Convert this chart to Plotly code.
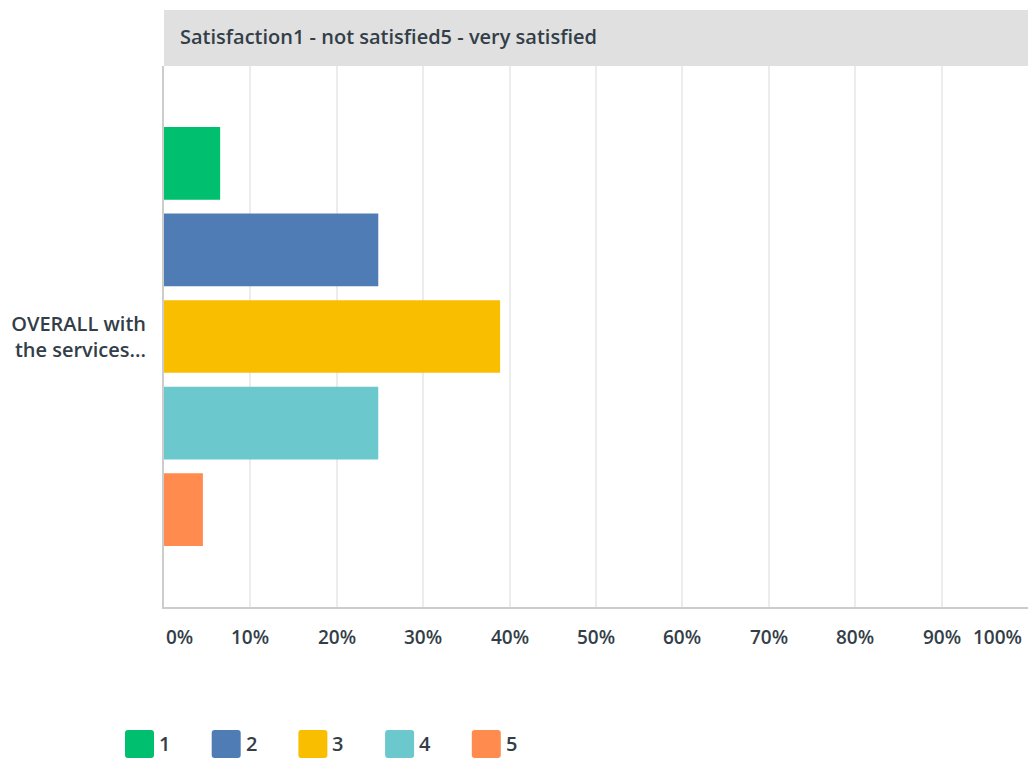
import plotly.graph_objects as go

# Survey responses, share of respondents per rating (%)
question = "OVERALL with<br>the services..."
ratings = ["1", "2", "3", "4", "5"]
shares = [6.5, 24.8, 38.9, 24.8, 4.5]
colors = ["#00bf6f", "#507cb6", "#f9be00", "#6bc8cd", "#ff8b4f"]
header_text = "Satisfaction1 - not satisfied5 - very satisfied"
tick_values = [0, 10, 20, 30, 40, 50, 60, 70, 80, 90, 100]
tick_labels = [f"{v}%" for v in tick_values]

W, H = 1028, 758
ML, MR, MT, MB = 164, 0, 66, 151
TEXT = "#333e48"
FONT = "Open Sans"


def px_x(x):
    return (x - ML) / (W - ML - MR)


def px_y(y):
    return (H - MB - y) / (H - MT - MB)


fig = go.Figure()
for r, v, c in zip(ratings, shares, colors):
    fig.add_trace(go.Bar(
        y=[question], x=[v], name=r, orientation="h",
        marker=dict(color=c, line=dict(width=0)),
        showlegend=False, hoverinfo="x+name",
    ))

shapes = []
annotations = []

# grey header band above the plot
shapes.append(dict(type="rect", xref="paper", yref="paper",
                   x0=0, x1=1, y0=1, y1=px_y(10),
                   fillcolor="#e0e0e0", line=dict(width=0), layer="below"))
annotations.append(dict(text=header_text, xref="paper", yref="paper",
                        x=px_x(178), y=px_y(37), xanchor="left", yanchor="middle",
                        showarrow=False,
                        font=dict(family=FONT, size=20, color=TEXT, weight=600)))

# x tick labels: outer ones kept inside the plot edges
for i, (v, t) in enumerate(zip(tick_values, tick_labels)):
    anchor = "left" if i == 0 else ("right" if i == len(tick_values) - 1 else "center")
    annotations.append(dict(text=t, xref="x", yref="paper", x=v, y=px_y(637),
                            xanchor=anchor, yanchor="middle", showarrow=False,
                            xshift=-4 if anchor == "right" else 0,
                            font=dict(family=FONT, size=19, color=TEXT, weight=600)))

# legend: rounded swatches with labels
for i, (r, c) in enumerate(zip(ratings, colors)):
    x0 = 125 + i * 86.7
    rad = 3
    x1, y0, y1 = x0 + 29, 730, 758
    pts = (f"M {px_x(x0 + rad)},{px_y(y0)} L {px_x(x1 - rad)},{px_y(y0)} "
           f"Q {px_x(x1)},{px_y(y0)} {px_x(x1)},{px_y(y0 + rad)} "
           f"L {px_x(x1)},{px_y(y1 - rad)} Q {px_x(x1)},{px_y(y1)} {px_x(x1 - rad)},{px_y(y1)} "
           f"L {px_x(x0 + rad)},{px_y(y1)} Q {px_x(x0)},{px_y(y1)} {px_x(x0)},{px_y(y1 - rad)} "
           f"L {px_x(x0)},{px_y(y0 + rad)} Q {px_x(x0)},{px_y(y0)} {px_x(x0 + rad)},{px_y(y0)} Z")
    shapes.append(dict(type="path", xref="paper", yref="paper", path=pts,
                       fillcolor=c, line=dict(width=0)))
    annotations.append(dict(text=r, xref="paper", yref="paper",
                            x=px_x(x1 + 3), y=px_y(743), xanchor="left", yanchor="middle",
                            showarrow=False,
                            font=dict(family=FONT, size=20, color=TEXT, weight=600)))

fig.update_layout(
    width=W, height=H,
    margin=dict(l=ML, r=MR, t=MT, b=MB, pad=0),
    paper_bgcolor="white", plot_bgcolor="white",
    barmode="group", bargap=0.2, bargroupgap=0.16,
    shapes=shapes, annotations=annotations,
    showlegend=False,
    xaxis=dict(range=[0, 100], tickvals=tick_values, showticklabels=False,
               showgrid=True, gridcolor="#ececec", gridwidth=2,
               showline=True, linecolor="#cccccc", linewidth=2,
               zeroline=False, fixedrange=True),
    yaxis=dict(autorange="reversed", showgrid=False, zeroline=False,
               showline=True, linecolor="#cccccc", linewidth=2,
               ticks="outside", ticklen=12, tickcolor="rgba(0,0,0,0)",
               tickfont=dict(family=FONT, size=20, color=TEXT, weight=600),
               fixedrange=True),
)

fig.write_html("out.html")
